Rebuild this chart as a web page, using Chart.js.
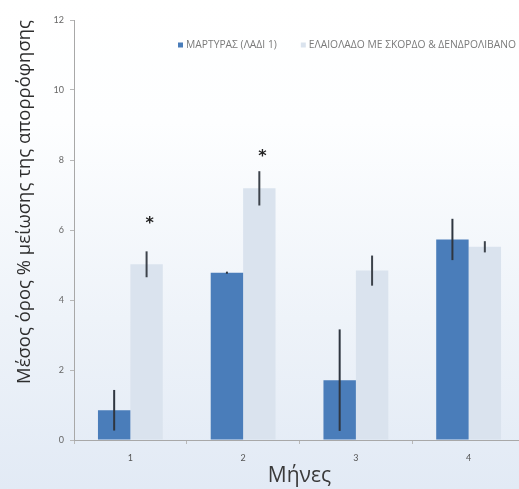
<!DOCTYPE html>
<html>
<head>
<meta charset="utf-8">
<script src="https://cdn.jsdelivr.net/npm/chart.js@4"></script>
<style>
  html, body { margin: 0; padding: 0; overflow: hidden; }
  body {
    width: 519px; height: 489px;
    background: linear-gradient(to bottom, #ffffff 0%, #fdfeff 25%, #eef3f9 65%, #e2eaf5 100%);
  }
  #wrap { position: absolute; left: 0; top: 0; width: 532px; height: 489px; }
</style>
</head>
<body>
<div id="wrap"><canvas id="c"></canvas></div>
<script>
// Months of the trial
const months = ['1', '2', '3', '4'];

// Control group (oil 1): mean % reduction and its error
const controlLabel = 'ΜΑΡΤΥΡΑΣ (ΛΑΔΙ 1)';
const controlMeans = [0.85, 4.78, 1.71, 5.73];
const controlErr   = [0.58, 0.03, 1.45, 0.59];

// Olive oil with garlic & rosemary: mean % reduction and its error
const treatedLabel = 'ΕΛΑΙΟΛΑΔΟ ΜΕ ΣΚΟΡΔΟ & ΔΕΝΔΡΟΛΙΒΑΝΟ';
const treatedMeans = [5.02, 7.19, 4.84, 5.52];
const treatedErr   = [0.37, 0.49, 0.43, 0.16];

// Significance asterisks over the treated bars (value level where drawn)
const starLevels = [6.3, 8.2, null, null];

// Y axis range and step
const yTicks = { min: 0, max: 12, step: 2 };

const DARK = '#4a7dba';
const LIGHT = '#dae3ee';

const errorBars = {
  id: 'errorBars',
  afterDatasetsDraw(chart) {
    const ys = chart.scales.y;
    const ctx = chart.ctx;
    ctx.save();
    ctx.lineWidth = 2;
    ctx.lineCap = 'butt';
    chart.data.datasets.forEach((ds, di) => {
      const meta = chart.getDatasetMeta(di);
      meta.data.forEach((el, i) => {
        const m = ds.data[i], e = ds.errors[i];
        ctx.strokeStyle = ds.errorColor;
        ctx.beginPath();
        ctx.moveTo(el.x, ys.getPixelForValue(m + e));
        ctx.lineTo(el.x, ys.getPixelForValue(m - e));
        ctx.stroke();
      });
    });
    // asterisks
    const meta = chart.getDatasetMeta(1);
    ctx.fillStyle = '#222';
    ctx.font = 'bold 16px "DejaVu Sans"';
    ctx.textAlign = 'center';
    ctx.textBaseline = 'middle';
    starLevels.forEach((lv, i) => {
      if (lv === null) return;
      const el = meta.data[i];
      ctx.fillText('*', el.x + 3, ys.getPixelForValue(lv) + 4);
    });
    ctx.restore();
  }
};

const topLegend = {
  id: 'topLegend',
  afterDraw(chart) {
    const ctx = chart.ctx;
    ctx.save();
    ctx.font = '10.3px "Open Sans"';
    ctx.textBaseline = 'middle';
    ctx.textAlign = 'left';
    let x = 178;
    const y = 45;
    chart.data.datasets.forEach((ds) => {
      ctx.fillStyle = ds.backgroundColor;
      ctx.fillRect(x, y - 2.5, 5, 5);
      x += 8;
      ctx.fillStyle = '#7a7a7a';
      ctx.fillText(ds.label, x, y);
      x += ctx.measureText(ds.label).width + 24;
    });
    ctx.restore();
  }
};

new Chart(document.getElementById('c'), {
  type: 'bar',
  data: {
    labels: months,
    datasets: [
      { label: controlLabel, data: controlMeans, errors: controlErr,
        backgroundColor: DARK, errorColor: '#2f3640',
        categoryPercentage: 0.575, barPercentage: 1.0 },
      { label: treatedLabel, data: treatedMeans, errors: treatedErr,
        backgroundColor: LIGHT, errorColor: '#3d434b',
        categoryPercentage: 0.575, barPercentage: 1.0 }
    ]
  },
  options: {
    responsive: true,
    maintainAspectRatio: false,
    animation: false,
    layout: { padding: { top: 20, right: 7, left: 0, bottom: 0 } },
    plugins: { legend: { display: false }, tooltip: { enabled: false } },
    scales: {
      x: {
        afterFit(s) { s.height = 49; },
        grid: { display: true, drawOnChartArea: false, tickLength: 4, color: '#b8b8b8', offset: true },
        border: { color: '#a8a8a8', width: 1 },
        ticks: { color: '#555', font: { family: 'Lato', size: 9 }, padding: 9 },
        title: { display: true, text: 'Μήνες', color: '#3a3a3a',
                 font: { family: 'Open Sans', size: 21 }, padding: { top: 0, bottom: 0 } }
      },
      y: {
        min: yTicks.min, max: yTicks.max,
        afterFit(s) { s.width = 74; },
        grid: { display: true, drawOnChartArea: false, tickLength: 4, color: '#b8b8b8' },
        border: { color: '#a8a8a8', width: 1 },
        ticks: { stepSize: yTicks.step, color: '#666', font: { family: 'Lato', size: 9 }, padding: 6 },
        title: { display: true, text: 'Μέσος όρος % μείωσης της απορρόφησης', color: '#2e2e2e',
                 align: 'end', font: { family: 'Open Sans', size: 18.5 }, padding: { top: 14, bottom: 0 } }
      }
    }
  },
  plugins: [errorBars, topLegend]
});
</script>
</body>
</html>
